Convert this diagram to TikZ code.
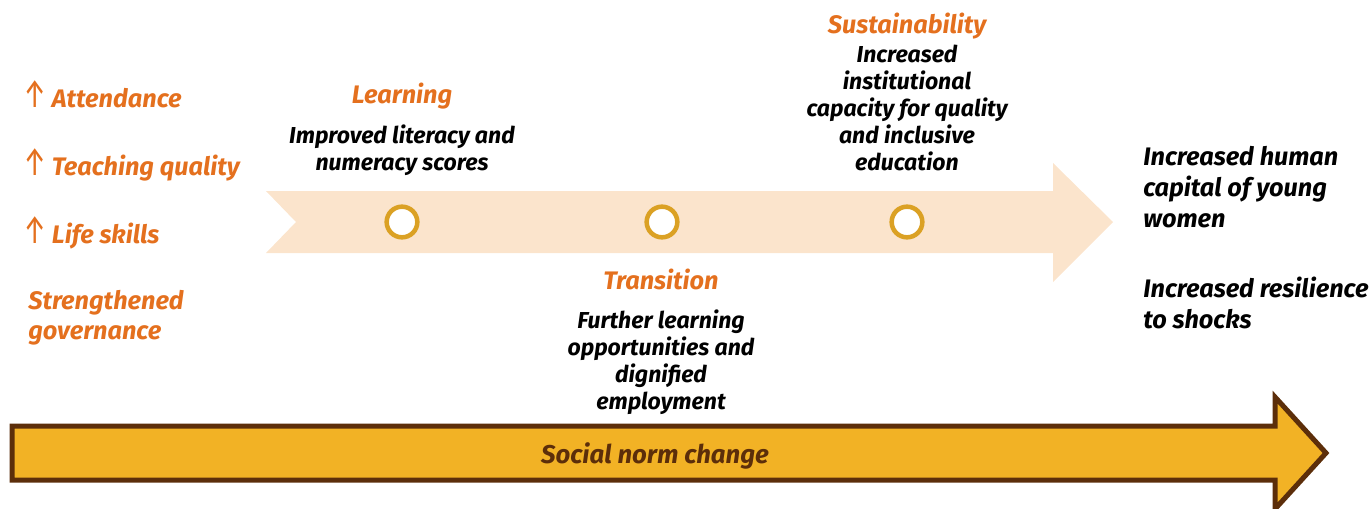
\documentclass[tikz,border=0pt]{standalone}
\usepackage{fontspec}
\setmainfont{Fira Sans}
\usepackage{tikz}
\usetikzlibrary{positioning}
\definecolor{orangetxt}{RGB}{228,112,30}
\definecolor{peach}{RGB}{251,228,204}
\definecolor{ringgold}{RGB}{219,161,36}
\definecolor{normfill}{RGB}{242,178,37}
\definecolor{normbrown}{RGB}{92,46,10}
\newcommand{\upmark}{\makebox[18.5pt][l]{\hspace{-3pt}\scalebox{0.65}[1]{\fontsize{30}{30}\selectfont\mdseries\upshape ↑}}}

\begin{document}
\begin{tikzpicture}[x=0.75pt,y=-0.75pt,line cap=round,line join=round,
  driver/.style={anchor=base west,text=orangetxt,align=left,inner sep=0pt,
    font=\bfseries\itshape\fontsize{19}{22.5}\selectfont},
  stage/.style={anchor=base,text=orangetxt,inner sep=0pt,
    font=\bfseries\itshape\fontsize{19}{22}\selectfont},
  outcome/.style={anchor=base,align=center,inner sep=0pt,
    font=\bfseries\itshape\fontsize{17.3}{20.25}\selectfont},
  impact/.style={anchor=base west,align=left,inner sep=0pt,
    font=\bfseries\itshape\fontsize{19}{23.25}\selectfont},
  milestone/.style={circle,draw=ringgold,line width=3.4pt,fill=white,
    minimum size=23pt,inner sep=0pt}]
  \useasboundingbox (0,0) rectangle (1371,508);

  % pathway arrow
  \fill[peach] (266,191) -- (1053,191) -- (1053,163) -- (1113,222)
    -- (1053,282) -- (1053,253) -- (266,253) -- (296,222) -- cycle;
  \node[milestone] (learn) at (402,222) {};
  \node[milestone] (trans) at (662,222) {};
  \node[milestone] (sust) at (907,222) {};

  % drivers
  \node[driver] (attend) at (27,107) {\upmark Attendance};
  \node[driver] (teach) at (27,175) {\upmark Teaching quality};
  \node[driver] (skills) at (27,243) {\upmark Life skills};
  \node[driver] (gov) at (28,339) {Strengthened\\governance};

  % stages (base = last line)
  \node[stage] (learnhd) at (402,103) {Learning};
  \node[outcome] (learntx) at (402,170) {Improved literacy and\\numeracy scores};
  \node[stage] (susthd) at (907,33) {Sustainability};
  \node[outcome] (susttx) at (907,170) {Increased\\institutional\\capacity for quality\\and inclusive\\education};
  \node[stage] (transhd) at (661,289) {Transition};
  \node[outcome] (transtx) at (661,409) {Further learning\\opportunities and\\dignified\\employment};

  % impacts
  \node[impact] (capital) at (1143,227) {Increased human\\capital of young\\women};
  \node[impact] (resil) at (1143,328) {Increased resilience\\to shocks};

  % social norm arrow
  \draw[normbrown,fill=normfill,line width=3.75pt,line join=miter]
    (12,426) -- (1275,426) -- (1275,397) -- (1326,453) -- (1275,509)
    -- (1275,480) -- (12,480) -- cycle;
  \node[anchor=base,text=normbrown,inner sep=0pt,
    font=\bfseries\itshape\fontsize{19.3}{22}\selectfont] (norm) at (655,463) {Social norm change};
\end{tikzpicture}
\end{document}
